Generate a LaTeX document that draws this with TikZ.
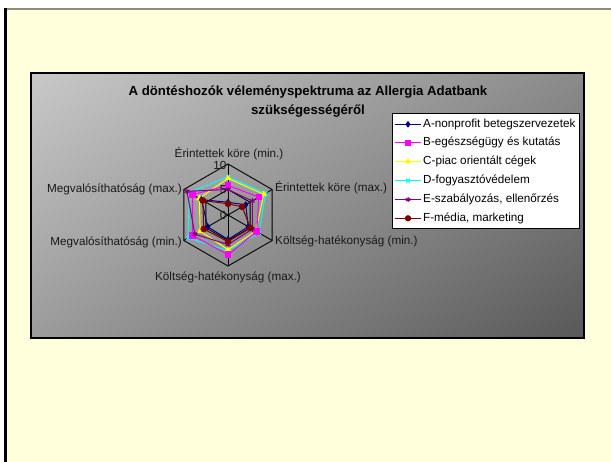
\documentclass[tikz,border=0pt]{standalone}
\usepackage{fontspec}
\setmainfont{Liberation Sans}
\usetikzlibrary{plotmarks,shadings}
\definecolor{pageyellow}{HTML}{FFFFDB}
\definecolor{framegray}{HTML}{8C8C78}
\definecolor{shUL}{HTML}{C8C8C8}
\definecolor{shUR}{HTML}{8A8A8A}
\definecolor{shLL}{HTML}{9B9B9B}
\definecolor{shLR}{HTML}{585858}
\definecolor{colA}{HTML}{000080}
\definecolor{colB}{HTML}{FF00FF}
\definecolor{colC}{HTML}{FFFF00}
\definecolor{colD}{HTML}{00FFFF}
\definecolor{colE}{HTML}{800080}
\definecolor{colF}{HTML}{800000}
\newcommand{\radarseries}[8]{%
  \draw[draw=#1, line width=1pt, line join=round] (-90:#3) -- (-30:#4) -- (30:#5) -- (90:#6) -- (150:#7) -- (210:#8) -- cycle;
  \draw[color=#1, line width=1pt] plot[only marks, mark=#2, mark size=2.8pt, mark options={fill=#1, draw=#1, solid}]
    coordinates {(-90:#3) (-30:#4) (30:#5) (90:#6) (150:#7) (210:#8)};
}
\newcommand{\legendentry}[5]{%
  \draw[draw=#2, line width=1pt] (395,#4) -- (421,#4);
  \draw[color=#2, line width=1pt] plot[only marks, mark=#3, mark size=2.6pt, mark options={fill=#2, draw=#2, solid}] coordinates {(408,#4)};
  \node[legtext, anchor=west] (#1) at (423,#4) {#5};
}
\begin{document}
\begin{tikzpicture}[x=1pt, y=-1pt,
  axlabel/.style={font=\fontsize{11.7}{13}\selectfont, text=black!90, inner sep=0pt},
  legtext/.style={font=\fontsize{11.7}{13}\selectfont, text=black, inner sep=0pt},
  titletext/.style={font=\bfseries\fontsize{13.2}{19.5}\selectfont, align=center, inner sep=0pt},
  gridline/.style={draw=black, line width=0.9pt}]
\useasboundingbox (0,0) rectangle (611,462);
\fill[white] (0,0) rectangle (611,462);
% slide background
\fill[pageyellow] (5,9) rectangle (611,462);
\draw[draw=framegray, line width=1.3pt] (4,9) -- (611,9);
\draw[draw=black, line width=3pt] (5.5,8.5) -- (5.5,462);
% chart area
\shade[upper left=shUL, upper right=shUR, lower left=shLL, lower right=shLR]
  (31,73) rectangle (584,338);
\draw[draw=black, line width=1.5pt] (31,73) rectangle (584,338);
% title
\node[titletext] (title) at (308,101.5) {A döntéshozók véleményspektruma az Allergia Adatbank\\szükségességéről};
% radar
\begin{scope}[shift={(228,215)}, x=5.1pt, y=-5.1pt]
  \draw[gridline] (-90:5) -- (-30:5) -- (30:5) -- (90:5) -- (150:5) -- (210:5) -- cycle;
  \draw[gridline] (-90:10) -- (-30:10) -- (30:10) -- (90:10) -- (150:10) -- (210:10) -- cycle;
  \foreach \a in {-90,-30,30,90,150,210} \draw[gridline] (0,0) -- (\a:10);
  \radarseries{colD}{x}{7.5}{8.5}{7.0}{7.0}{9.0}{8.8}
  \radarseries{colC}{triangle*}{7.2}{8.1}{6.3}{6.8}{6.3}{6.5}
  \radarseries{colB}{square*}{5.8}{7.0}{6.5}{7.8}{8.0}{8.0}
  \radarseries{colE}{asterisk}{5.0}{5.5}{5.5}{5.8}{7.5}{9.3}
  \radarseries{colA}{diamond*}{2.5}{4.0}{4.6}{4.8}{4.6}{6.0}
  \radarseries{colF}{*}{2.2}{3.2}{5.1}{5.2}{5.5}{5.7}
\end{scope}
% scale labels
\node[axlabel, anchor=east] (s10) at (226.5,165) {10};
\node[axlabel, anchor=east] (s5) at (226.5,190) {5};
\node[axlabel, anchor=east] (s0) at (226.5,215) {0};
% axis labels
\node[axlabel] (ax1) at (229,154) {Érintettek köre (min.)};
\node[axlabel, anchor=west] (ax2) at (275,188) {Érintettek köre (max.)};
\node[axlabel, anchor=west] (ax3) at (275,241) {Költség-hatékonyság (min.)};
\node[axlabel] (ax4) at (228,277) {Költség-hatékonyság (max.)};
\node[axlabel, anchor=east] (ax5) at (182,242) {Megvalósíthatóság (min.)};
\node[axlabel, anchor=east] (ax6) at (182,189) {Megvalósíthatóság (max.)};
% legend
\node[draw=black, fill=white, line width=0.8pt, minimum width=187pt, minimum height=115pt, inner sep=0pt] (legend) at (485.5,170.5) {};
\legendentry{legA}{colA}{diamond*}{124.3}{A-nonprofit betegszervezetek}
\legendentry{legB}{colB}{square*}{142.9}{B-egészségügy és kutatás}
\legendentry{legC}{colC}{triangle*}{161.6}{C-piac orientált cégek}
\legendentry{legD}{colD}{x}{180.6}{D-fogyasztóvédelem}
\legendentry{legE}{colE}{asterisk}{199.6}{E-szabályozás, ellenőrzés}
\legendentry{legF}{colF}{*}{218.3}{F-média, marketing}
\end{tikzpicture}
\end{document}
